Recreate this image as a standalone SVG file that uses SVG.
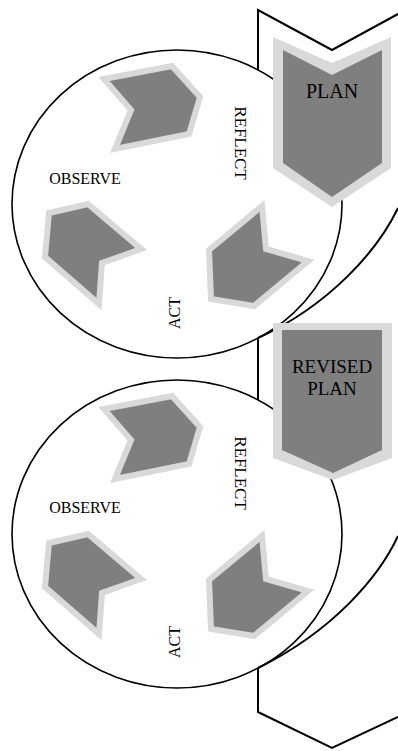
<svg xmlns="http://www.w3.org/2000/svg" width="398" height="751" viewBox="0 0 398 751">
<style>
.line{fill:none;stroke:#000;stroke-width:2;stroke-linejoin:miter}
.ell{fill:none;stroke:#000;stroke-width:1.6}
.piece{fill:#7f7f7f;stroke:#d9d9d9;stroke-width:6;stroke-linejoin:miter}
.outer{fill:#d9d9d9}
.inner{fill:#7f7f7f}
.lbl{font-family:"Liberation Serif","Times New Roman",serif;fill:#000}
</style>
<rect width="398" height="751" fill="#fff"/>
<g id="connectors">
<path class="line" d="M258,70 L258,10 L332,50 L398,14"/>
<path class="line" d="M398,208 C378,250 330,305 258,338"/>
<path class="line" d="M258,338 L258,400"/>
<path class="line" d="M398,536 C380,575 335,630 258,668"/>
<path class="line" d="M258,668 L258,712 L332,748 L398,717"/>
</g>
<g id="cycle1">
<ellipse class="ell" cx="177" cy="204" rx="165" ry="154"/>
<polygon class="piece" points="104,79 172,66 200,97 189,134 115,149 131,110"/>
<polygon class="piece" points="49,213 88,204 141,249 102,263 99,304 45,257"/>
<polygon class="piece" points="262,206 266,249 308,261 254,306 211,299 209,250"/>
<text class="lbl" x="85" y="184" font-size="16" text-anchor="middle">OBSERVE</text>
<text class="lbl" transform="translate(235,143) rotate(90)" font-size="17" text-anchor="middle">REFLECT</text>
<text class="lbl" transform="translate(180,313) rotate(-90)" font-size="16" text-anchor="middle">ACT</text>
</g>
<g id="cycle2" transform="translate(0,330)">
<ellipse class="ell" cx="177" cy="204" rx="165" ry="154"/>
<polygon class="piece" points="104,79 172,66 200,97 189,134 115,149 131,110"/>
<polygon class="piece" points="49,213 88,204 141,249 102,263 99,304 45,257"/>
<polygon class="piece" points="262,206 266,249 308,261 254,306 211,299 209,250"/>
<text class="lbl" x="85" y="183" font-size="16" text-anchor="middle">OBSERVE</text>
<text class="lbl" transform="translate(235,143) rotate(90)" font-size="17" text-anchor="middle">REFLECT</text>
<text class="lbl" transform="translate(180,312) rotate(-90)" font-size="16" text-anchor="middle">ACT</text>
</g>
<g id="plan">
<polygon class="outer" points="273,37 332,63 391,37 391,168 332,207 273,168"/>
<polygon class="inner" points="283,50 332,75 382,50 382,163 332,197 283,163"/>
<text class="lbl" x="332" y="98" font-size="20" text-anchor="middle">PLAN</text>
</g>
<g id="revised-plan">
<polygon class="outer" points="273,323 392,323 392,458 333,480 273,458"/>
<polygon class="inner" points="282,330 382,330 382,450 333,473 282,450"/>
<text class="lbl" x="332" y="373" font-size="19" text-anchor="middle">REVISED</text>
<text class="lbl" x="332" y="395" font-size="19" text-anchor="middle">PLAN</text>
</g>
</svg>
